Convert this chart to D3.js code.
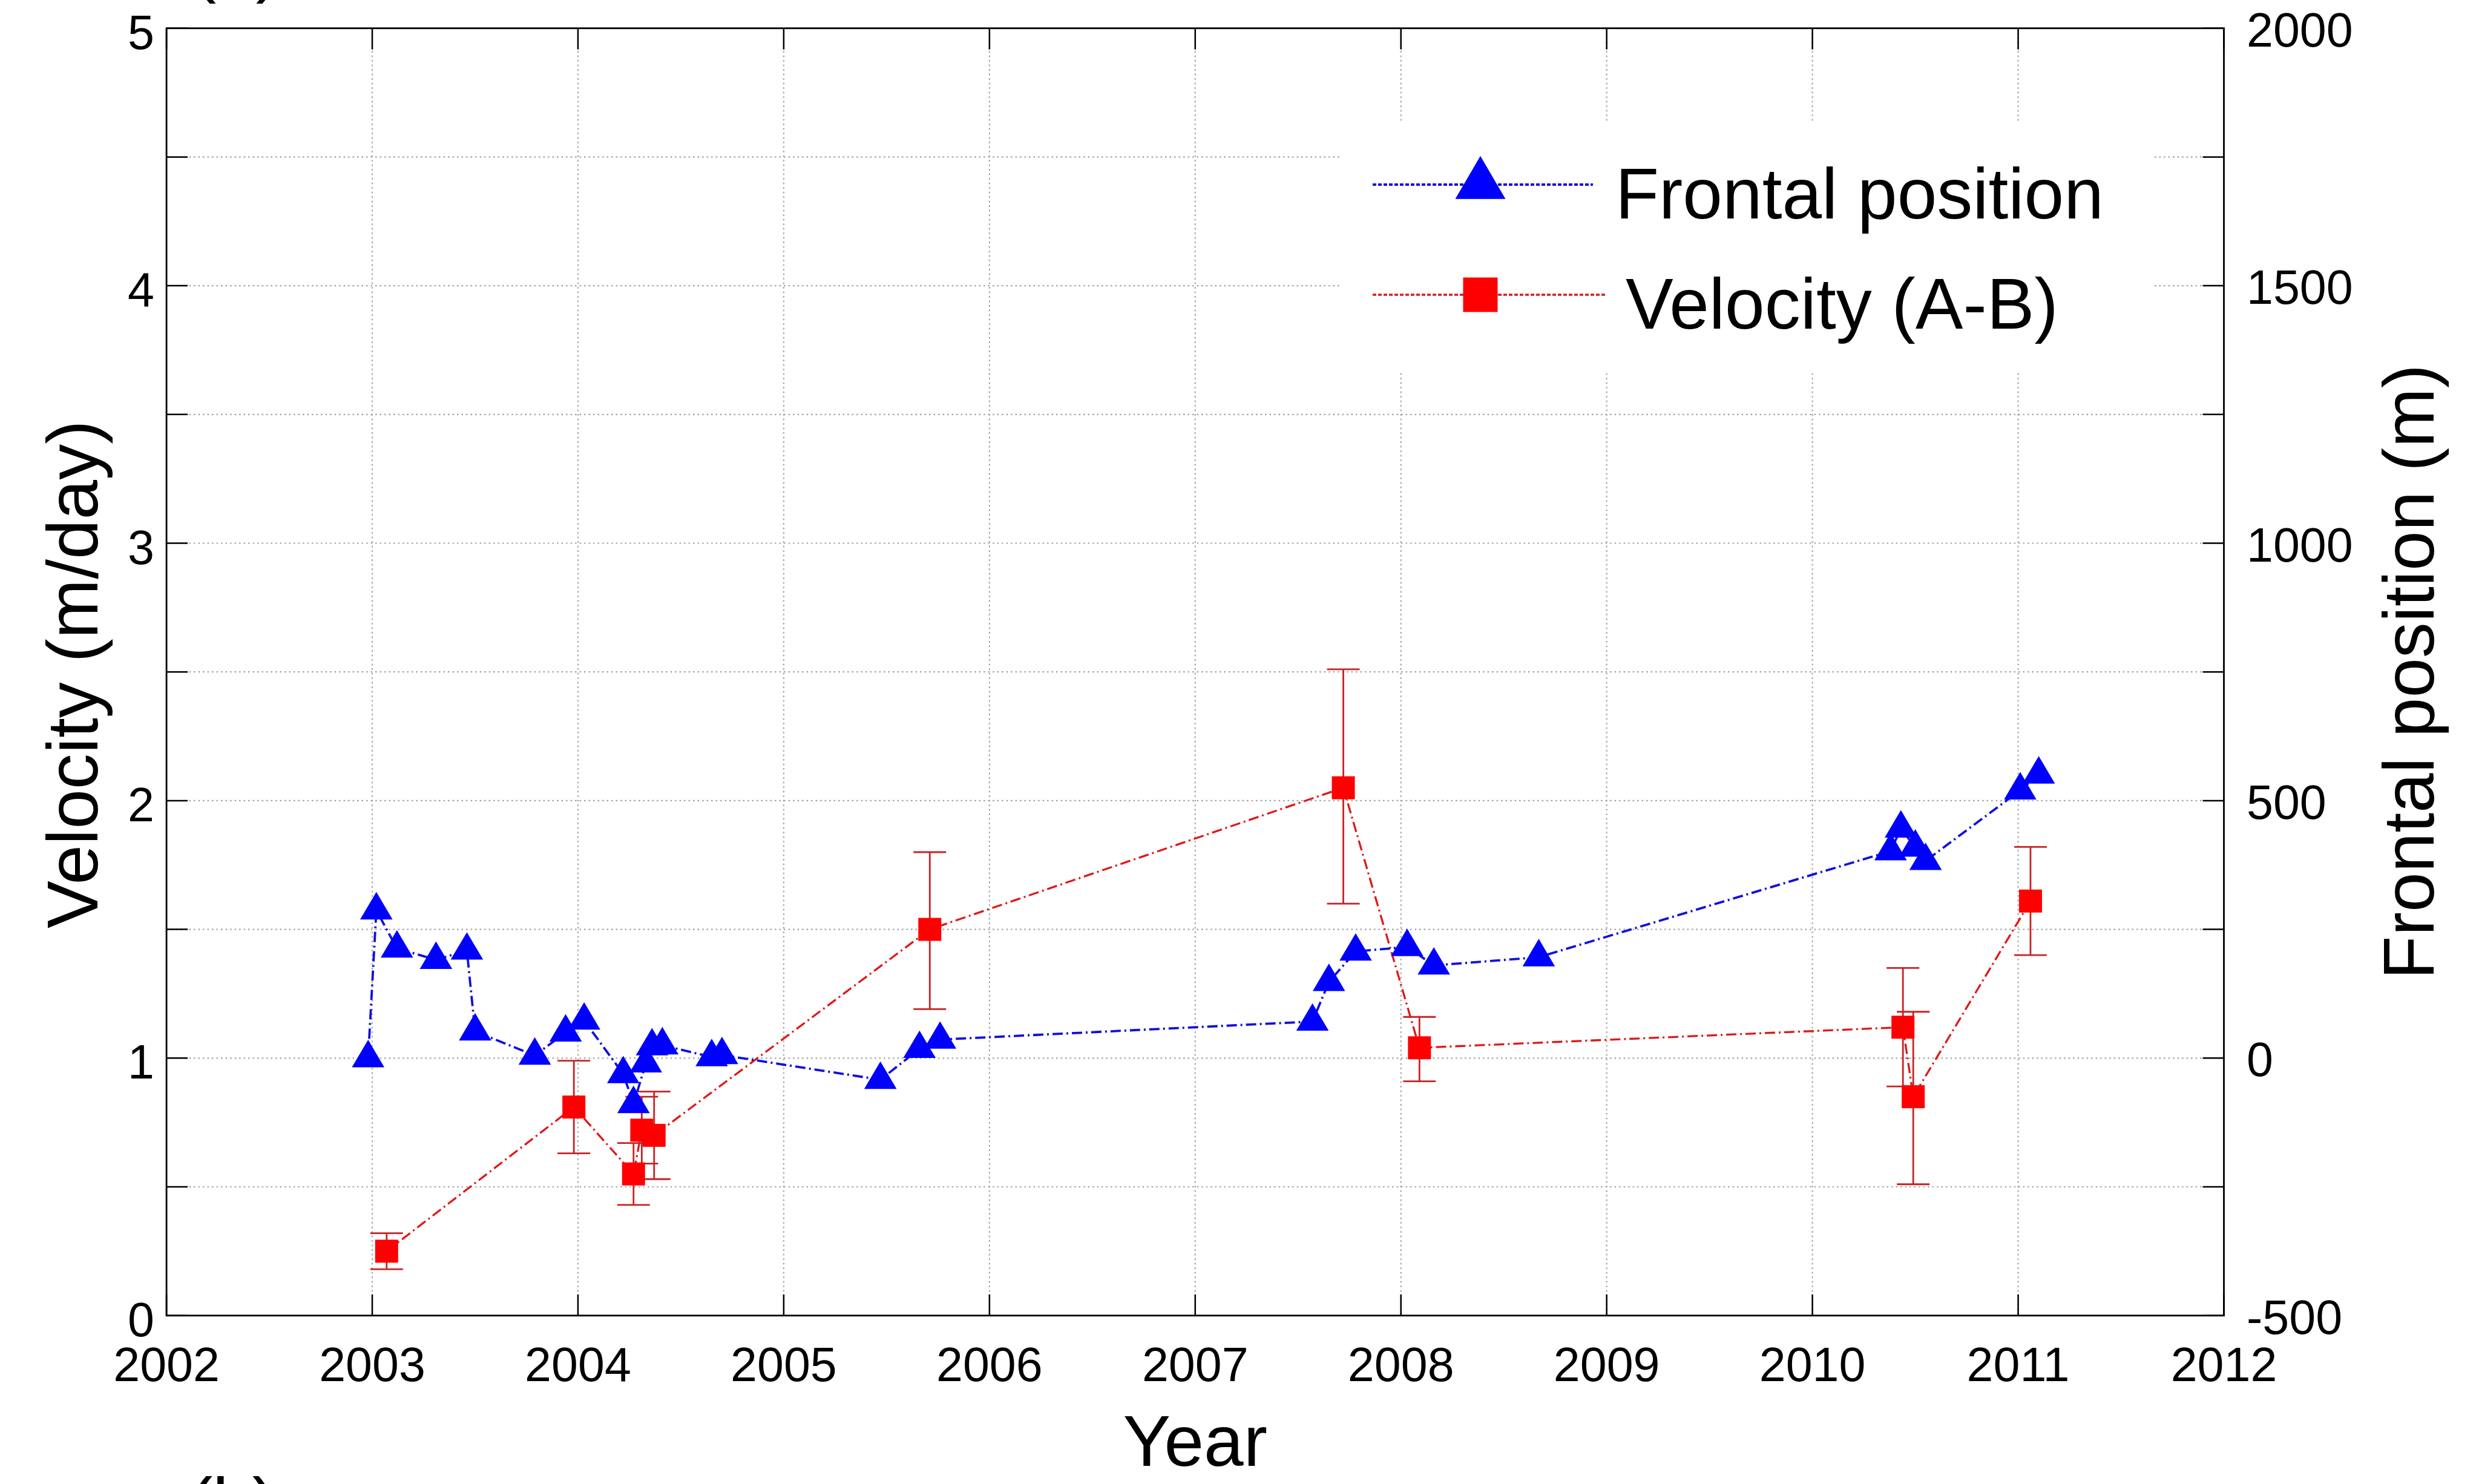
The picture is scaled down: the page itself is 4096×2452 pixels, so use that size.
<!DOCTYPE html>
<html><head><meta charset="utf-8">
<script src="https://cdn.jsdelivr.net/npm/d3@7"></script>
<style>html,body{margin:0;padding:0;background:#fff;overflow:hidden}</style>
</head><body>
<svg id="c" width="4096" height="2452" xmlns="http://www.w3.org/2000/svg"></svg>
<script>
// ---------------- DATA ----------------
const xTickValues = [2002, 2003, 2004, 2005, 2006, 2007, 2008, 2009, 2010, 2011, 2012];
const velTickLabels = [0, 1, 2, 3, 4, 5];
const velTickMarks = [0, 0.5, 1, 1.5, 2, 2.5, 3, 3.5, 4, 4.5, 5];
const posTickLabels = [-500, 0, 500, 1000, 1500, 2000];
const posTickMarks = [-500, -250, 0, 250, 500, 750, 1000, 1250, 1500, 1750, 2000];

const frontYear = [2002.98, 2003.02, 2003.12, 2003.31, 2003.46, 2003.50, 2003.79, 2003.94, 2004.03,
  2004.22, 2004.27, 2004.33, 2004.36, 2004.41, 2004.65, 2004.70, 2005.47, 2005.66, 2005.76,
  2007.57, 2007.65, 2007.78, 2008.03, 2008.16, 2008.67, 2010.38, 2010.43, 2010.50, 2010.55,
  2011.01, 2011.10];
const frontPos = [0, 287, 213, 191, 209, 52, 5, 50, 73,
  -31, -89, -10, 23, 25, 2, 6, -42, 18, 36,
  71, 148, 207, 216, 180, 196, 402, 446, 409, 383,
  520, 551];

const velYear = [2003.07, 2003.98, 2004.27, 2004.31, 2004.37, 2005.71, 2007.72, 2008.09, 2010.44, 2010.49, 2011.06];
const velValue = [0.25, 0.81, 0.55, 0.72, 0.70, 1.50, 2.05, 1.04, 1.12, 0.85, 1.61];
const velLow = [0.18, 0.63, 0.43, 0.59, 0.53, 1.19, 1.60, 0.91, 0.89, 0.51, 1.40];
const velHigh = [0.32, 0.99, 0.67, 0.85, 0.87, 1.80, 2.51, 1.16, 1.35, 1.18, 1.82];

const seriesNames = ["Frontal position", "Velocity (A-B)"];
const xTitle = "Year";
const yLeftTitle = "Velocity (m/day)";
const yRightTitle = "Frontal position (m)";

// ---------------- LAYOUT ----------------
const FONT = "'Liberation Sans', Arial, Helvetica, sans-serif";
const L = 275.1, R = 3674.5, T = 46.7, B = 2173.7;
const x = d3.scaleLinear().domain([2002, 2012]).range([L, R]);
const yV = d3.scaleLinear().domain([0, 5]).range([B, T]);
const yF = d3.scaleLinear().domain([-500, 2000]).range([B, T]);

const svg = d3.select("#c");
svg.append("rect").attr("width", 4096).attr("height", 2452).attr("fill", "#fff");

// grid
const grid = svg.append("g").attr("stroke", "#a0a0a0").attr("stroke-width", 2.2).attr("stroke-dasharray", "2.5,5");
grid.selectAll("line.v").data(xTickValues.slice(1, -1)).join("line")
  .attr("x1", d => x(d)).attr("x2", d => x(d)).attr("y1", T).attr("y2", B);
grid.selectAll("line.h").data(velTickMarks.slice(1, -1)).join("line")
  .attr("x1", L).attr("x2", R).attr("y1", d => yV(d)).attr("y2", d => yV(d));

// ticks (inward)
const TL = 35;
const ticks = svg.append("g").attr("stroke", "#000").attr("stroke-width", 2.5);
xTickValues.forEach(v => {
  ticks.append("line").attr("x1", x(v)).attr("x2", x(v)).attr("y1", B).attr("y2", B - TL);
  ticks.append("line").attr("x1", x(v)).attr("x2", x(v)).attr("y1", T).attr("y2", T + TL);
});
velTickMarks.forEach(v => {
  ticks.append("line").attr("x1", L).attr("x2", L + TL).attr("y1", yV(v)).attr("y2", yV(v));
});
posTickMarks.forEach(v => {
  ticks.append("line").attr("x1", R).attr("x2", R - TL).attr("y1", yF(v)).attr("y2", yF(v));
});

// axes box
svg.append("rect").attr("x", L).attr("y", T).attr("width", R - L).attr("height", B - T)
  .attr("fill", "none").attr("stroke", "#000").attr("stroke-width", 2.8);

// tick labels
const tl = svg.append("g").attr("font-family", FONT).attr("font-size", 79).attr("fill", "#000");
tl.selectAll("text.x").data(xTickValues).join("text")
  .attr("x", d => x(d)).attr("y", 2282).attr("text-anchor", "middle").text(d => d);
tl.selectAll("text.yl").data(velTickLabels).join("text")
  .attr("x", 255).attr("y", d => yV(d) + 34).attr("text-anchor", "end").text(d => d);
tl.selectAll("text.yr").data(posTickLabels).join("text")
  .attr("x", 3712).attr("y", d => yF(d) + 30).attr("text-anchor", "start").text(d => d);

// axis titles
const tt = svg.append("g").attr("font-family", FONT).attr("font-size", 118).attr("fill", "#000");
tt.append("text").attr("x", (L + R) / 2).attr("y", 2422).attr("text-anchor", "middle").text(xTitle);
tt.append("text").attr("transform", `translate(161,${(T + B) / 2 + 4}) rotate(-90)`)
  .attr("text-anchor", "middle").text(yLeftTitle);
tt.append("text").attr("transform", `translate(4021,${(T + B) / 2}) rotate(-90)`)
  .attr("text-anchor", "middle").text(yRightTitle);
// panel labels cut by the page edges (as in the reference)
tt.append("text").attr("x", 390).attr("y", -19).attr("text-anchor", "middle").text("(a)");
tt.append("text").attr("x", 384).attr("y", 2525).attr("text-anchor", "middle").text("(b)");

// ---------------- SERIES ----------------
const triW = 53.6, triH = 45.4;
const triPath = (w, h) => `M0,${-2 * h / 3}L${w / 2},${h / 3}L${-w / 2},${h / 3}Z`;
const SQ = 38;
const dash = "17,6,3,6";

const vel = velYear.map((yr, i) => ({ yr, v: velValue[i], lo: velLow[i], hi: velHigh[i] }));
const front = frontYear.map((yr, i) => ({ yr, p: frontPos[i] }));

// velocity (red) line + error bars
svg.append("path").datum(vel)
  .attr("d", d3.line().x(d => x(d.yr)).y(d => yV(d.v)))
  .attr("fill", "none").attr("stroke", "#e01818").attr("stroke-width", 3.3).attr("stroke-dasharray", dash);

const eb = svg.append("g").attr("stroke", "#c82222").attr("stroke-width", 2.8);
vel.forEach(d => {
  const cx = x(d.yr);
  eb.append("line").attr("x1", cx).attr("x2", cx).attr("y1", yV(d.lo)).attr("y2", yV(d.hi));
  eb.append("line").attr("x1", cx - 27).attr("x2", cx + 27).attr("y1", yV(d.lo)).attr("y2", yV(d.lo));
  eb.append("line").attr("x1", cx - 27).attr("x2", cx + 27).attr("y1", yV(d.hi)).attr("y2", yV(d.hi));
});

// frontal position (blue) line + triangles
svg.append("path").datum(front)
  .attr("d", d3.line().x(d => x(d.yr)).y(d => yF(d.p)))
  .attr("fill", "none").attr("stroke", "#1010e0").attr("stroke-width", 3.8).attr("stroke-dasharray", dash);
svg.append("g").selectAll("path").data(front).join("path")
  .attr("transform", d => `translate(${x(d.yr)},${yF(d.p)})`)
  .attr("d", triPath(triW, triH)).attr("fill", "#0000ff");

// velocity squares
svg.append("g").selectAll("rect").data(vel).join("rect")
  .attr("x", d => x(d.yr) - SQ / 2).attr("y", d => yV(d.v) - SQ / 2)
  .attr("width", SQ).attr("height", SQ).attr("fill", "#ff0000");

// ---------------- LEGEND ----------------
const lg = svg.append("g");
lg.append("rect").attr("x", 2214).attr("y", 203).attr("width", 1341).attr("height", 409).attr("fill", "#fff");
const legY = [305, 487];
const legTextX = [2669, 2686];
const lx1 = 2268, lx2 = 2632, lcx = 2446;
lg.append("line").attr("x1", lx1).attr("x2", lx2).attr("y1", legY[0]).attr("y2", legY[0])
  .attr("stroke", "#1010e0").attr("stroke-width", 3.8).attr("stroke-dasharray", "6,3");
lg.append("path").attr("transform", `translate(${lcx},${legY[0]})`).attr("d", triPath(83, 71)).attr("fill", "#0000ff");
lg.append("line").attr("x1", lx1).attr("x2", lx2 + 20).attr("y1", legY[1]).attr("y2", legY[1])
  .attr("stroke", "#e01818").attr("stroke-width", 3.3).attr("stroke-dasharray", "6,3");
lg.append("rect").attr("x", lcx - 28.5).attr("y", legY[1] - 28.5).attr("width", 57).attr("height", 57).attr("fill", "#ff0000");
lg.selectAll("text").data(seriesNames).join("text")
  .attr("x", (d, i) => legTextX[i]).attr("y", (d, i) => legY[i] + 56)
  .attr("font-family", FONT).attr("font-size", 118).attr("fill", "#000").text(d => d);
</script>
</body></html>
